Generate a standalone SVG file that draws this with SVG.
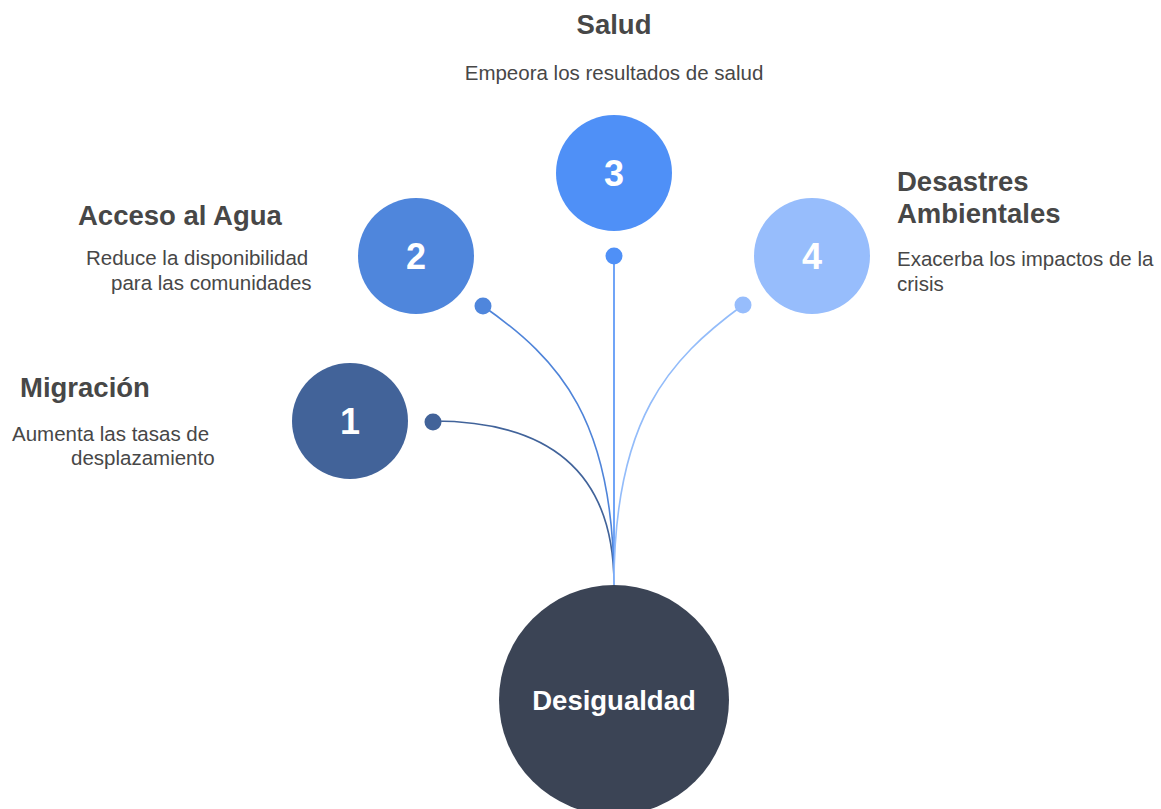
<svg xmlns="http://www.w3.org/2000/svg" width="1161" height="809" viewBox="0 0 1161 809">
<style>
.title{font-family:"Liberation Sans",Arial,sans-serif;font-weight:bold;font-size:27.5px;fill:#474747}
.desc{font-family:"Liberation Sans",Arial,sans-serif;font-size:20.5px;fill:#474747}
.num{font-family:"Liberation Sans",Arial,sans-serif;font-weight:bold;font-size:36px;fill:#ffffff;text-anchor:middle}
.conn{fill:none;stroke-width:1.6}
</style>
<rect width="1161" height="809" fill="#ffffff"/>
<g id="connectors">
<path class="conn" stroke="#41639a" d="M433,421 Q614,421 614,585"/>
<path class="conn" stroke="#4f84d9" d="M483,306 C560,360 614,420 614,585"/>
<path class="conn" stroke="#4d8ef5" d="M614,256 L614,585"/>
<path class="conn" stroke="#93bcfa" d="M743,305 C668,360 614,420 614,585"/>
<circle cx="433" cy="422" r="8.5" fill="#426399"/>
<circle cx="483" cy="306" r="8.5" fill="#4f86dc"/>
<circle cx="614" cy="256" r="8.5" fill="#4f90f7"/>
<circle cx="743" cy="305" r="8.5" fill="#97bdfc"/>
</g>
<g id="node-1">
<circle cx="350" cy="421" r="58" fill="#426399"/>
<text class="num" x="350" y="434">1</text>
<text class="title" x="20" y="397">Migración</text>
<text class="desc" x="12" y="441">Aumenta las tasas de</text>
<text class="desc" x="71" y="465">desplazamiento</text>
</g>
<g id="node-2">
<circle cx="416" cy="256" r="58" fill="#4f86dc"/>
<text class="num" x="416" y="269">2</text>
<text class="title" x="78" y="225">Acceso al Agua</text>
<text class="desc" x="86" y="265">Reduce la disponibilidad</text>
<text class="desc" x="111" y="290">para las comunidades</text>
</g>
<g id="node-3">
<circle cx="614" cy="173" r="58" fill="#4f90f7"/>
<text class="num" x="614" y="186">3</text>
<text class="title" x="614" y="34" text-anchor="middle">Salud</text>
<text class="desc" x="614" y="80" text-anchor="middle">Empeora los resultados de salud</text>
</g>
<g id="node-4">
<circle cx="812" cy="256" r="58" fill="#97bdfc"/>
<text class="num" x="812" y="269">4</text>
<text class="title" x="897" y="191">Desastres</text>
<text class="title" x="897" y="223">Ambientales</text>
<text class="desc" x="897" y="266">Exacerba los impactos de la</text>
<text class="desc" x="897" y="291">crisis</text>
</g>
<g id="node-center">
<circle cx="614" cy="700" r="115" fill="#3b4455"/>
<text x="614" y="710" text-anchor="middle" font-family="Liberation Sans, Arial, sans-serif" font-weight="bold" font-size="27.5" fill="#ffffff">Desigualdad</text>
</g>
</svg>
